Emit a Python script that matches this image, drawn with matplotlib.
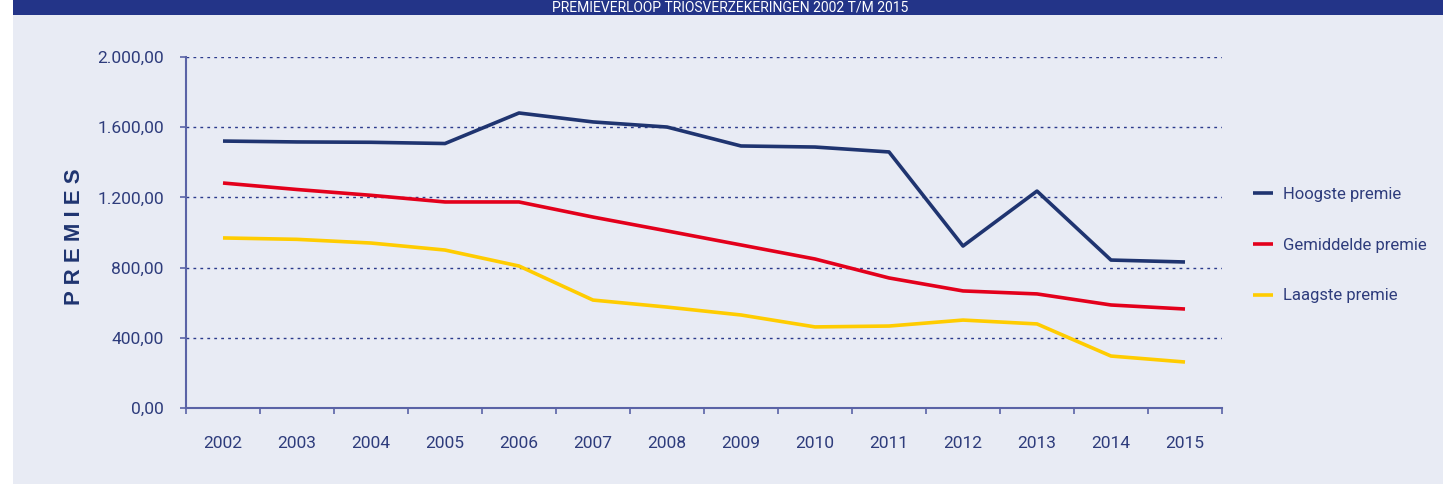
import matplotlib.pyplot as plt
import numpy as np
from matplotlib.patches import Rectangle

# data
years = ['2002', '2003', '2004', '2005', '2006', '2007', '2008',
         '2009', '2010', '2011', '2012', '2013', '2014', '2015']
hoogste = [1521, 1516, 1514, 1507, 1681, 1630, 1601, 1493, 1487, 1459, 923, 1236, 843, 832]
gemiddelde = [1282, 1245, 1212, 1174, 1174, 1088, 1009, 929, 849, 741, 667, 650, 587, 564]
laagste = [969, 961, 940, 900, 809, 615, 575, 530, 462, 467, 501, 479, 296, 262]
yticks = [0, 400, 800, 1200, 1600, 2000]
ytick_labels = ['0,00', '400,00', '800,00', '1.200,00', '1.600,00', '2.000,00']

title = 'PREMIEVERLOOP TRIOSVERZEKERINGEN 2002 T/M 2015'

navy = '#1F3470'
red = '#E3001B'
yellow = '#FFCC00'
txt = '#2E3C7C'
axcol = '#5A63A6'
bg = '#E8EBF4'

plt.rcParams['font.family'] = ['Liberation Sans Narrow', 'Roboto', 'DejaVu Sans']

fig = plt.figure(figsize=(14.43, 4.84), dpi=100)
fig.patch.set_facecolor('white')
# page background and top banner
fig.patches.append(Rectangle((13/1443, 0), 1, 1, transform=fig.transFigure,
                             facecolor=bg, edgecolor='none', zorder=-2))
fig.patches.append(Rectangle((13/1443, 1 - 15/484), 1, 15/484, transform=fig.transFigure,
                             facecolor='#233488', edgecolor='none', zorder=-1))
fig.text(730/1443, 1 - 8/484, title, color='white', fontsize=10,
         ha='center', va='center')

ax = fig.add_axes([186/1443, 76/484, 1036/1443, 351/484])
ax.set_facecolor('none')

x = np.arange(len(years)) + 0.5
ax.plot(x, hoogste, color=navy, lw=2.6, label='Hoogste premie', solid_capstyle='butt')
ax.plot(x, gemiddelde, color=red, lw=2.6, label='Gemiddelde premie', solid_capstyle='butt')
ax.plot(x, laagste, color=yellow, lw=2.6, label='Laagste premie', solid_capstyle='butt')

ax.set_xlim(0, len(years))
ax.set_ylim(0, 2000)
ax.set_yticks(yticks)
ax.set_yticklabels(ytick_labels)
ax.set_xticks(np.arange(len(years) + 1))
ax.set_xticklabels([])
ax.set_xticks(x, minor=True)
ax.set_xticklabels(years, minor=True)
ax.tick_params(axis='x', which='major', length=4, width=1.2, color=axcol, direction='out')
ax.tick_params(axis='x', which='minor', length=0, pad=20, labelsize=12.5, labelcolor=txt)
ax.tick_params(axis='y', length=4, width=1.2, color=axcol, pad=12, labelsize=12.5, labelcolor=txt)

for v in yticks[1:]:
    ax.axhline(v, color='#2B3A8C', lw=1, ls=(0, (2, 3)), zorder=0)

for s in ['top', 'right']:
    ax.spines[s].set_visible(False)
for s in ['left', 'bottom']:
    ax.spines[s].set_color(axcol)
    ax.spines[s].set_linewidth(1.5)

fig.text(75/1443, 1 - 237/484, 'P R E M I E S', rotation=90, color=navy,
         fontsize=16, fontweight='bold', ha='center', va='center',
         family=['Liberation Sans', 'DejaVu Sans'])

leg = ax.legend(loc='center left', bbox_to_anchor=(1.015, 0.464), frameon=False,
                handlelength=1.2, handletextpad=0.6, labelspacing=2.15, fontsize=12)
for t in leg.get_texts():
    t.set_color(txt)

fig.savefig('out.png', dpi=100, facecolor=fig.get_facecolor())
